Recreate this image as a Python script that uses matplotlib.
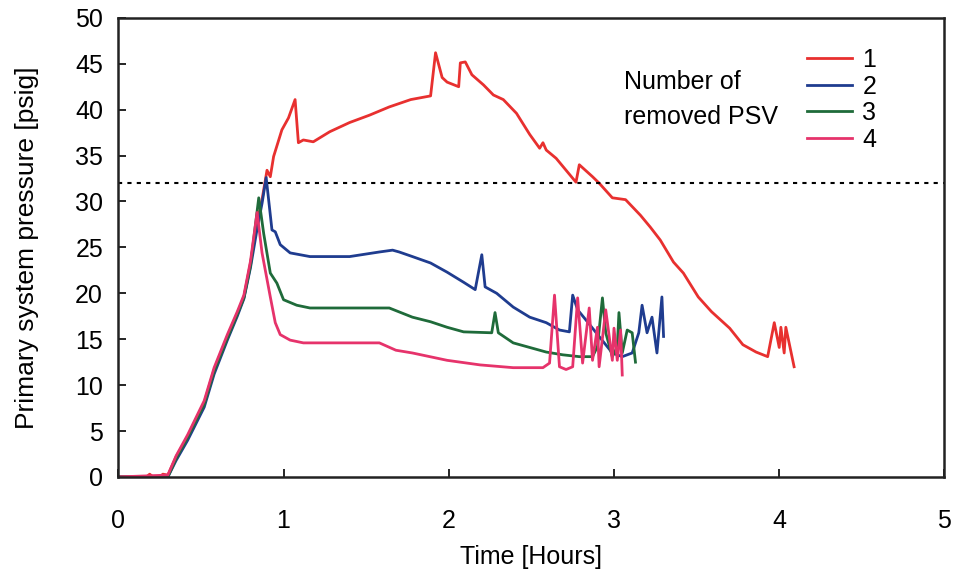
import matplotlib
matplotlib.use("Agg")
import matplotlib.pyplot as plt

plt.rcParams['font.family'] = ['Liberation Sans', 'DejaVu Sans']

# Series 1 (red)
t1 = [0.00, 0.17, 0.19, 0.21, 0.25, 0.27, 0.30, 0.35, 0.42, 0.52, 0.58, 0.66, 0.72, 0.76, 0.80, 0.84, 0.87,
      0.90, 0.92, 0.94, 0.99, 1.03, 1.07, 1.09, 1.12, 1.18, 1.28, 1.40, 1.52, 1.64, 1.77, 1.89,
      1.92, 1.96, 1.99, 2.06, 2.07, 2.10, 2.14, 2.21, 2.27, 2.33, 2.41, 2.49, 2.55, 2.57, 2.59,
      2.65, 2.71, 2.77, 2.79, 2.87, 2.91, 2.99, 3.07, 3.16, 3.22, 3.28, 3.36, 3.42, 3.51, 3.59,
      3.70, 3.78, 3.86, 3.93, 3.97, 4.00, 4.01, 4.03, 4.04, 4.09]
p1 = [0.0, 0.0, 0.3, 0.0, 0.0, 0.3, 0.2, 2.2, 4.4, 8.1, 11.7, 15.3, 17.8, 19.6, 23.3, 27.7, 30.2,
      33.4, 32.7, 34.9, 37.8, 39.1, 41.1, 36.4, 36.7, 36.5, 37.6, 38.6, 39.4, 40.3, 41.1, 41.5,
      46.2, 43.5, 43.0, 42.5, 45.1, 45.2, 43.8, 42.7, 41.6, 41.1, 39.6, 37.3, 35.8, 36.4, 35.6,
      34.7, 33.4, 32.1, 34.0, 32.7, 32.0, 30.4, 30.2, 28.5, 27.2, 25.8, 23.4, 22.2, 19.6, 18.0,
      16.2, 14.4, 13.6, 13.1, 16.8, 14.1, 16.3, 13.5, 16.3, 12.0]

# Series 2 (blue)
t2 = [0.00, 0.30, 0.35, 0.42, 0.52, 0.58, 0.66, 0.72, 0.76, 0.80, 0.84, 0.87, 0.895,
      0.93, 0.95, 0.98, 1.04, 1.16, 1.40, 1.58, 1.66, 1.70, 1.78, 1.89, 1.99, 2.09, 2.16,
      2.20, 2.22, 2.29, 2.39, 2.49, 2.59, 2.67, 2.73, 2.75, 2.78, 2.83, 2.91, 2.99, 3.05,
      3.11, 3.15, 3.17, 3.20, 3.23, 3.26, 3.29, 3.30]
p2 = [0.0, 0.0, 1.8, 4.0, 7.6, 11.2, 14.9, 17.5, 19.4, 22.8, 27.0, 29.8, 32.6,
      26.9, 26.7, 25.3, 24.4, 24.0, 24.0, 24.5, 24.7, 24.5, 24.0, 23.3, 22.3, 21.2, 20.4,
      24.2, 20.7, 20.0, 18.5, 17.4, 16.8, 16.0, 15.8, 19.8, 18.2, 17.1, 15.3, 13.5, 13.1,
      13.5, 15.7, 18.7, 15.7, 17.4, 13.5, 19.6, 15.3]

# Series 3 (green)
t3 = [0.00, 0.30, 0.35, 0.42, 0.52, 0.58, 0.66, 0.72, 0.76, 0.80, 0.85,
      0.88, 0.92, 0.96, 1.00, 1.08, 1.16, 1.58, 1.64, 1.78, 1.89, 1.99, 2.09, 2.26,
      2.28, 2.30, 2.39, 2.49, 2.59, 2.69, 2.79, 2.87, 2.90, 2.93, 2.95, 2.99, 3.02,
      3.03, 3.05, 3.08, 3.11, 3.13]
p3 = [0.0, 0.0, 2.0, 4.3, 7.9, 11.5, 15.1, 17.7, 19.5, 23.0, 30.4,
      26.5, 22.2, 21.1, 19.3, 18.7, 18.4, 18.4, 18.4, 17.4, 16.9, 16.3, 15.8, 15.7,
      17.9, 15.7, 14.6, 14.1, 13.6, 13.3, 13.1, 13.1, 14.2, 19.5, 15.7, 13.1, 14.2,
      17.9, 13.5, 16.0, 15.7, 12.5]

# Series 4 (pink)
t4 = [0.00, 0.30, 0.35, 0.42, 0.52, 0.58, 0.66, 0.72, 0.76, 0.80, 0.84,
      0.87, 0.92, 0.95, 0.98, 1.04, 1.12, 1.50, 1.58, 1.68, 1.78, 1.99, 2.19, 2.39,
      2.57, 2.61, 2.64, 2.67, 2.71, 2.75, 2.78, 2.81, 2.85, 2.87, 2.90, 2.91, 2.95,
      2.99, 3.00, 3.02, 3.04, 3.05]
p4 = [0.0, 0.2, 2.3, 4.6, 8.3, 11.9, 15.5, 18.0, 19.8, 23.5, 28.8,
      24.4, 19.6, 16.8, 15.5, 14.9, 14.6, 14.6, 14.6, 13.8, 13.5, 12.7, 12.2, 11.9,
      11.9, 12.4, 19.8, 12.0, 11.7, 12.0, 19.5, 12.4, 18.4, 12.7, 16.3, 12.0, 18.2,
      12.7, 16.2, 12.7, 16.0, 11.1]

series_labels = ["1", "2", "3", "4"]
series_colors = ["#e8302f", "#1f3c8f", "#1f6b3a", "#e6336b"]
limit_pressure = 32.0

x_ticks = [0, 1, 2, 3, 4, 5]
y_ticks = list(range(0, 51, 5))

fig = plt.figure(figsize=(9.54, 5.76), dpi=100)
ax = fig.add_axes([0.124, 0.172, 0.866, 0.797])

for t, p, lab, c in zip([t1, t2, t3, t4], [p1, p2, p3, p4], series_labels, series_colors):
    ax.plot(t, p, color=c, lw=2.0, label=lab)

ax.axhline(limit_pressure, color="black", lw=1.5, ls=(0, (2, 2.5)))

ax.set_xlim(0, 5)
ax.set_ylim(0, 50)
ax.set_xticks(x_ticks)
ax.set_yticks(y_ticks)
ax.tick_params(direction="in", length=6, width=1.2, labelsize=18)
ax.tick_params(axis="y", pad=11)
ax.tick_params(axis="x", pad=23)
for s in ax.spines.values():
    s.set_linewidth(1.8)
    s.set_color("#222222")

ax.set_xlabel("Time [Hours]", fontsize=18, labelpad=9)
ax.set_ylabel("Primary system pressure [psig]", fontsize=19, labelpad=26)

leg = ax.legend(loc="upper left", bbox_to_anchor=(0.813, 0.972), frameon=False,
                fontsize=18, handlelength=1.8, handletextpad=0.4, labelspacing=0.1,
                borderpad=0.2)
ax.text(0.612, 0.758, "Number of\nremoved PSV", transform=ax.transAxes, fontsize=18,
        ha="left", va="bottom", linespacing=1.6)

fig.savefig("out.png", dpi=100)
